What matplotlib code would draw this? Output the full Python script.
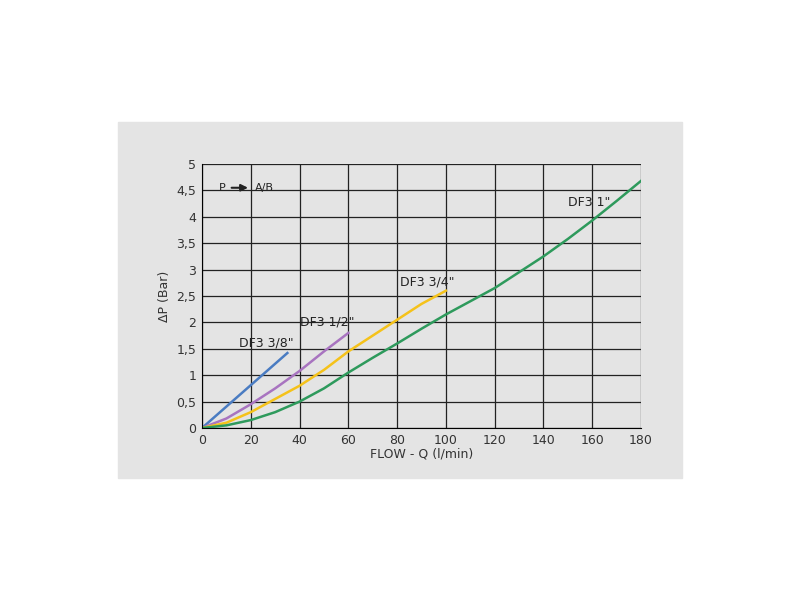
import matplotlib.pyplot as plt
from matplotlib.patches import Rectangle

x_38 = [0, 35]
y_38 = [0, 1.42]
x_12 = [0, 10, 20, 30, 40, 50, 60]
y_12 = [0, 0.18, 0.45, 0.75, 1.08, 1.45, 1.8]
x_34 = [0, 10, 20, 30, 40, 50, 60, 70, 80, 90, 100]
y_34 = [0, 0.1, 0.3, 0.55, 0.8, 1.1, 1.45, 1.75, 2.05, 2.35, 2.6]
x_1 = [0, 10, 20, 30, 40, 50, 60, 70, 80, 90, 100, 110, 120, 130, 140, 150, 160, 170, 180]
y_1 = [0, 0.05, 0.15, 0.3, 0.5, 0.75, 1.05, 1.33, 1.6, 1.88, 2.15, 2.4, 2.65, 2.95, 3.25, 3.58, 3.93, 4.3, 4.68]

xticks = list(range(0, 181, 20))
yticks = [0, 0.5, 1, 1.5, 2, 2.5, 3, 3.5, 4, 4.5, 5]

fig = plt.figure(figsize=(8, 6), dpi=100)
fig.add_artist(Rectangle((118/800, 122/600), 564/800, 356/600,
                         transform=fig.transFigure, color='#e4e4e4', zorder=-10))
ax = fig.add_axes([202/800, 172/600, 439/800, 264/600])
ax.set_zorder(1)
ax.patch.set_visible(False)

ax.plot(x_38, y_38, color='#4a7cc2', lw=1.8)
ax.plot(x_12, y_12, color='#a874c0', lw=1.8)
ax.plot(x_34, y_34, color='#f5c21a', lw=1.8)
ax.plot(x_1, y_1, color='#2e9a5c', lw=1.8)

ax.set_xlim(0, 180)
ax.set_ylim(0, 5)
ax.set_xticks(xticks)
ax.set_yticks(yticks)
ax.set_yticklabels([('%g' % v).replace('.', ',') for v in yticks])
ax.grid(True, color='#222222', lw=0.9)
for s in ['top', 'right']:
    ax.spines[s].set_visible(False)
ax.tick_params(length=0, labelsize=9, colors='#333333', pad=4)
ax.set_xlabel('FLOW - Q (l/min)', fontsize=9, labelpad=1, color='#333333')
ax.set_ylabel('ΔP (Bar)', fontsize=9, color='#333333')

tk = dict(fontsize=9, color='#222222')
ax.text(15, 1.55, 'DF3 3/8"', **tk)
ax.text(40, 1.95, 'DF3 1/2"', **tk)
ax.text(81, 2.7, 'DF3 3/4"', **tk)
ax.text(150, 4.2, 'DF3 1"', **tk)
ax.text(7, 4.48, 'P', fontsize=8, color='#222222')
ax.annotate('', xy=(20, 4.55), xytext=(11, 4.55),
            arrowprops=dict(arrowstyle='-|>', color='#222222', lw=1.5))
ax.text(21.5, 4.48, 'A/B', fontsize=8, color='#222222')

fig.savefig('out.png')
